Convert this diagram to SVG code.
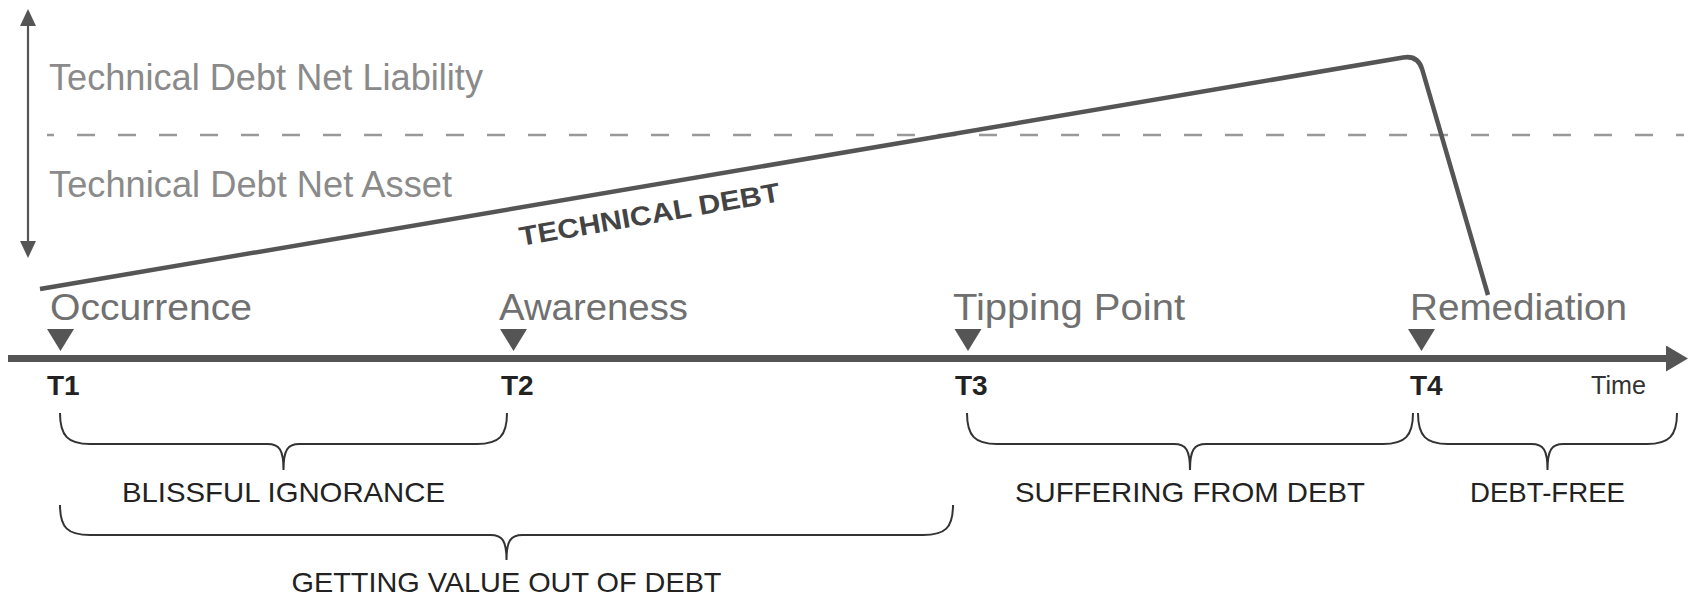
<svg xmlns="http://www.w3.org/2000/svg" width="1691" height="596" viewBox="0 0 1691 596">
  <style>
    .zone { font-family: "Liberation Sans", Arial, sans-serif; font-size: 36px; fill: #8a8a8a; }
    .event { font-family: "Liberation Sans", Arial, sans-serif; font-size: 37px; fill: #707070; }
    .tlabel { font-family: "Liberation Sans", Arial, sans-serif; font-size: 28px; font-weight: bold; fill: #222; }
    .phase { font-family: "Liberation Sans", Arial, sans-serif; font-size: 28px; fill: #222; text-anchor: middle; }
    .time { font-family: "Liberation Sans", Arial, sans-serif; font-size: 26px; fill: #333; }
    .debtlabel { font-family: "Liberation Sans", Arial, sans-serif; font-size: 27px; font-weight: bold; fill: #444; }
    .brace { fill: none; stroke: #333; stroke-width: 2; }
    .tri { fill: #555; }
  </style>
  <defs>
    <path id="tri" d="M-13.5,0 L13.5,0 L0,22 Z"/>
    <marker id="axisHead" markerUnits="userSpaceOnUse" viewBox="0 0 22 26" markerWidth="22" markerHeight="26" refX="2" refY="13" orient="auto">
      <path d="M0,0 L22,13 L0,26 Z" fill="#555"/>
    </marker>
    <marker id="vHead" markerUnits="userSpaceOnUse" viewBox="0 0 17 16" markerWidth="17" markerHeight="16" refX="2" refY="8" orient="auto-start-reverse">
      <path d="M0,0 L17,8 L0,16 Z" fill="#555"/>
    </marker>
  </defs>
  <rect width="1691" height="596" fill="#fff"/>

  <g id="connectors">
    <line id="value-axis" x1="28" y1="24" x2="28" y2="243" stroke="#555" stroke-width="2.2" marker-start="url(#vHead)" marker-end="url(#vHead)"/>
    <line id="threshold" x1="47" y1="135" x2="1684" y2="135" stroke="#999" stroke-width="2.5" stroke-dasharray="18 23" stroke-dashoffset="11"/>
    <line id="time-axis" x1="8" y1="358.5" x2="1668" y2="358.5" stroke="#555" stroke-width="7" marker-end="url(#axisHead)"/>
    <path id="debt-curve" d="M40,289 L1403.2,57.5 Q1418,55 1422.2,69.4 L1488,295" fill="none" stroke="#555" stroke-width="4.5" stroke-linejoin="round"/>
  </g>

  <g id="zone-liability">
    <text class="zone" x="49" y="90" textLength="434" lengthAdjust="spacingAndGlyphs">Technical Debt Net Liability</text>
  </g>
  <g id="zone-asset">
    <text class="zone" x="49" y="197" textLength="403" lengthAdjust="spacingAndGlyphs">Technical Debt Net Asset</text>
  </g>
  <g id="debt-label">
    <text class="debtlabel" transform="translate(521,246) rotate(-9.8)" textLength="264" lengthAdjust="spacingAndGlyphs">TECHNICAL DEBT</text>
  </g>

  <g id="t1">
    <text class="event" x="50" y="320" textLength="202" lengthAdjust="spacingAndGlyphs">Occurrence</text>
    <use href="#tri" x="60.5" y="329" class="tri"/>
    <text class="tlabel" x="47" y="395">T1</text>
  </g>
  <g id="t2">
    <text class="event" x="499" y="320" textLength="189" lengthAdjust="spacingAndGlyphs">Awareness</text>
    <use href="#tri" x="513.5" y="329" class="tri"/>
    <text class="tlabel" x="501" y="395">T2</text>
  </g>
  <g id="t3">
    <text class="event" x="953" y="320" textLength="232" lengthAdjust="spacingAndGlyphs">Tipping Point</text>
    <use href="#tri" x="968" y="329" class="tri"/>
    <text class="tlabel" x="955" y="395">T3</text>
  </g>
  <g id="t4">
    <text class="event" x="1410" y="320" textLength="217" lengthAdjust="spacingAndGlyphs">Remediation</text>
    <use href="#tri" x="1421.5" y="329" class="tri"/>
    <text class="tlabel" x="1410" y="395">T4</text>
  </g>
  <g id="time-label">
    <text class="time" x="1591" y="394" textLength="55" lengthAdjust="spacingAndGlyphs">Time</text>
  </g>

  <g id="phase-blissful">
    <path class="brace" d="M60,413 C60,436 68,444 90,444 L267.5,444 C279.5,444 283.5,450 283.5,470 C283.5,450 287.5,444 299.5,444 L477,444 C499,444 507,436 507,413"/>
    <text class="phase" x="283.5" y="502" textLength="323" lengthAdjust="spacingAndGlyphs">BLISSFUL IGNORANCE</text>
  </g>
  <g id="phase-value">
    <path class="brace" d="M60,505 C60,528 68,535 90,535 L490.5,535 C502.5,535 506.5,541 506.5,560 C506.5,541 510.5,535 522.5,535 L923,535 C945,535 953,528 953,505"/>
    <text class="phase" x="506.5" y="592" textLength="430" lengthAdjust="spacingAndGlyphs">GETTING VALUE OUT OF DEBT</text>
  </g>
  <g id="phase-suffering">
    <path class="brace" d="M967,413 C967,436 975,444 997,444 L1174,444 C1186,444 1190,450 1190,470 C1190,450 1194,444 1206,444 L1383,444 C1405,444 1413,436 1413,413"/>
    <text class="phase" x="1190" y="502" textLength="350" lengthAdjust="spacingAndGlyphs">SUFFERING FROM DEBT</text>
  </g>
  <g id="phase-debtfree">
    <path class="brace" d="M1418,413 C1418,436 1426,444 1448,444 L1531.5,444 C1543.5,444 1547.5,450 1547.5,470 C1547.5,450 1551.5,444 1563.5,444 L1647,444 C1669,444 1677,436 1677,413"/>
    <text class="phase" x="1547.5" y="502" textLength="155" lengthAdjust="spacingAndGlyphs">DEBT-FREE</text>
  </g>
</svg>
